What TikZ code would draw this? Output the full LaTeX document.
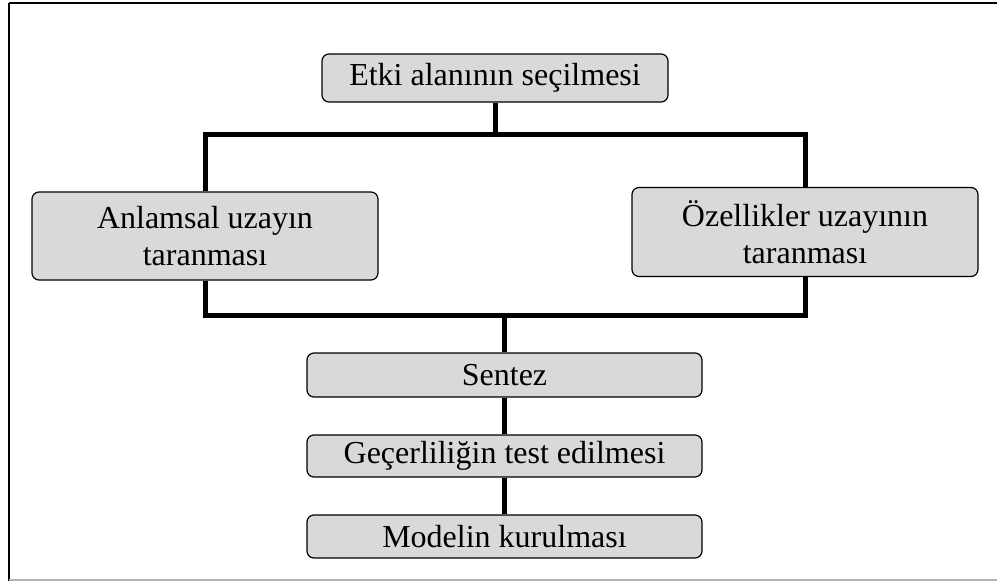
\documentclass[tikz,border=0pt]{standalone}
\usepackage{fontspec}
\setmainfont{Liberation Serif}
\begin{document}
\begin{tikzpicture}[x=1pt,y=-1pt,
  stepbox/.style={draw=black,line width=1.2pt,fill=gray!30,rounded corners=7pt,inner sep=0pt,font=\fontsize{32}{37}\selectfont,align=center},
  conn/.style={line width=5pt}]
\useasboundingbox (0,0) rectangle (997,581);
\draw[line width=2pt] (9,3) -- (997,3);
\draw[line width=2.5pt] (9,3) -- (9,581);
\draw[gray!60,line width=1.5pt] (9,580) -- (997,580);
\node[stepbox,minimum width=346,minimum height=48] (etki) at (495,78) {Etki alanının seçilmesi};
\node[stepbox,minimum width=346,minimum height=88] (anl) at (205,236) {Anlamsal uzayın\\taranması};
\node[stepbox,minimum width=346,minimum height=89] (oz) at (805,232) {Özellikler uzayının\\taranması};
\node[stepbox,minimum width=395,minimum height=44] (sen) at (504.5,375) {Sentez};
\node[stepbox,minimum width=395,minimum height=42] (gec) at (504.5,456) {Geçerliliğin test edilmesi};
\node[stepbox,minimum width=395,minimum height=43] (mod) at (504.5,536.5) {Modelin kurulması};
\coordinate (t1) at (495,134);
\coordinate (b1) at (504.5,315);
\draw[conn] (etki.south) -- (t1);
\draw[conn] (anl.north) |- (t1) -| (oz.north);
\draw[conn] (anl.south) |- (b1) -| (oz.south);
\draw[conn] (b1) -- (sen.north);
\draw[conn] (sen.south) -- (gec.north);
\draw[conn] (gec.south) -- (mod.north);
\end{tikzpicture}
\end{document}
